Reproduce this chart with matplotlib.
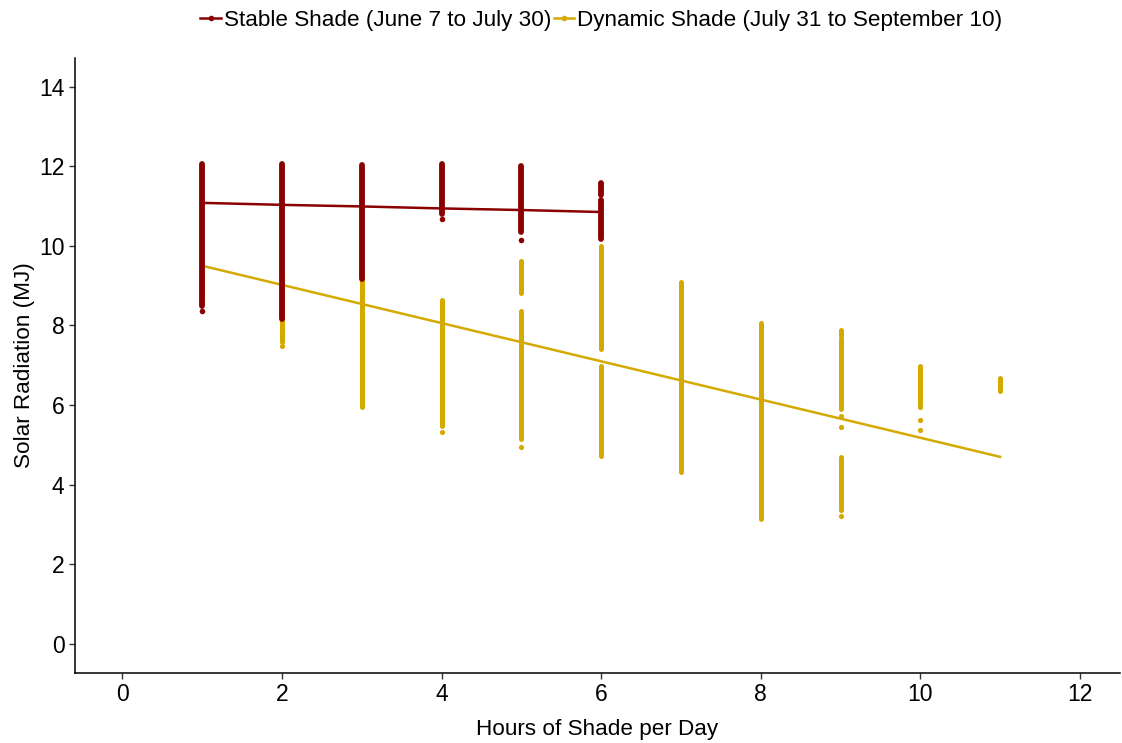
import matplotlib
matplotlib.use("Agg")
import matplotlib.pyplot as plt
from matplotlib.lines import Line2D

plt.rcParams['font.family'] = ['Liberation Sans', 'DejaVu Sans']

RED = '#8B0000'
GOLD = '#D4AA00'

# ---- Data ----
# Fitted lines
stable_fit_x = [1, 2, 3, 4, 5, 6]
stable_fit_y = [11.08, 11.03, 10.99, 10.94, 10.90, 10.85]
dynamic_fit_x = [1, 2, 3, 4, 5, 6, 7, 8, 9, 10, 11]
dynamic_fit_y = [9.50, 9.02, 8.54, 8.06, 7.58, 7.10, 6.62, 6.14, 5.66, 5.18, 4.70]

# Dense runs of observations (x, low, high)
stable_run_x = [1, 2, 3, 4, 5, 6, 6]
stable_run_lo = [8.49, 8.17, 9.17, 10.80, 10.35, 11.28, 10.18]
stable_run_hi = [12.06, 12.06, 12.03, 12.06, 12.01, 11.58, 11.16]
# Isolated observations
stable_pt_x = [1, 4, 5]
stable_pt_y = [8.37, 10.68, 10.15]

dynamic_run_x = [1, 2, 3, 4, 5, 5, 6, 6, 7, 8, 9, 9, 9, 10, 11]
dynamic_run_lo = [8.70, 7.59, 5.95, 5.48, 8.82, 5.15, 7.41, 4.72, 4.32, 3.14, 7.74, 5.90, 3.44, 6.03, 6.36]
dynamic_run_hi = [9.40, 9.20, 9.17, 8.64, 9.62, 8.37, 10.00, 6.98, 9.10, 8.07, 7.89, 7.66, 4.70, 6.98, 6.68]
dynamic_pt_x = [2, 4, 5, 9, 9, 9, 9, 10, 10, 10]
dynamic_pt_y = [7.49, 5.33, 4.95, 5.73, 5.45, 3.37, 3.22, 5.95, 5.63, 5.38]

labels = ['Stable Shade (June 7 to July 30)', 'Dynamic Shade (July 31 to September 10)']
x_ticks = [0, 2, 4, 6, 8, 10, 12]
y_ticks = [0, 2, 4, 6, 8, 10, 12, 14]

# ---- Figure ----
fig = plt.figure(figsize=(11.22, 7.43), dpi=100)
ax = fig.add_axes([0.0668, 0.0942, 0.9312, 0.8278])

# dynamic first (below), then stable
ax.vlines(dynamic_run_x, dynamic_run_lo, dynamic_run_hi, colors=GOLD, linewidth=3.6,
          capstyle='round', zorder=2)
ax.scatter(dynamic_pt_x, dynamic_pt_y, s=14, color=GOLD, linewidths=0, zorder=2)
ax.plot(dynamic_fit_x, dynamic_fit_y, color=GOLD, linewidth=1.8, zorder=3)

ax.vlines(stable_run_x, stable_run_lo, stable_run_hi, colors=RED, linewidth=4.2,
          capstyle='round', zorder=4)
ax.scatter(stable_pt_x, stable_pt_y, s=16, color=RED, linewidths=0, zorder=4)
ax.plot(stable_fit_x, stable_fit_y, color=RED, linewidth=1.8, zorder=5)

ax.set_xlim(-0.595, 12.5)
ax.set_ylim(-0.73, 14.72)
ax.set_xticks(x_ticks)
ax.set_yticks(y_ticks)
ax.tick_params(labelsize=16.5, colors='#333333', labelcolor='black', length=4, width=1)
for s in ['top', 'right']:
    ax.spines[s].set_visible(False)
for s in ['left', 'bottom']:
    ax.spines[s].set_linewidth(1.1)
ax.set_xlabel('Hours of Shade per Day', fontsize=16.2, labelpad=9)
ax.set_ylabel('Solar Radiation (MJ)', fontsize=16.2, labelpad=3)

handles = [Line2D([0], [0], color=RED, lw=1.8, marker='o', markersize=3),
           Line2D([0], [0], color=GOLD, lw=1.8, marker='o', markersize=3)]
fig.legend(handles, labels, loc='upper center', bbox_to_anchor=(0.536, 1.014), ncol=2,
           frameon=False, fontsize=16.2, handlelength=0.9, handletextpad=0.15,
           columnspacing=0.1)

fig.savefig('out.png', dpi=100)
